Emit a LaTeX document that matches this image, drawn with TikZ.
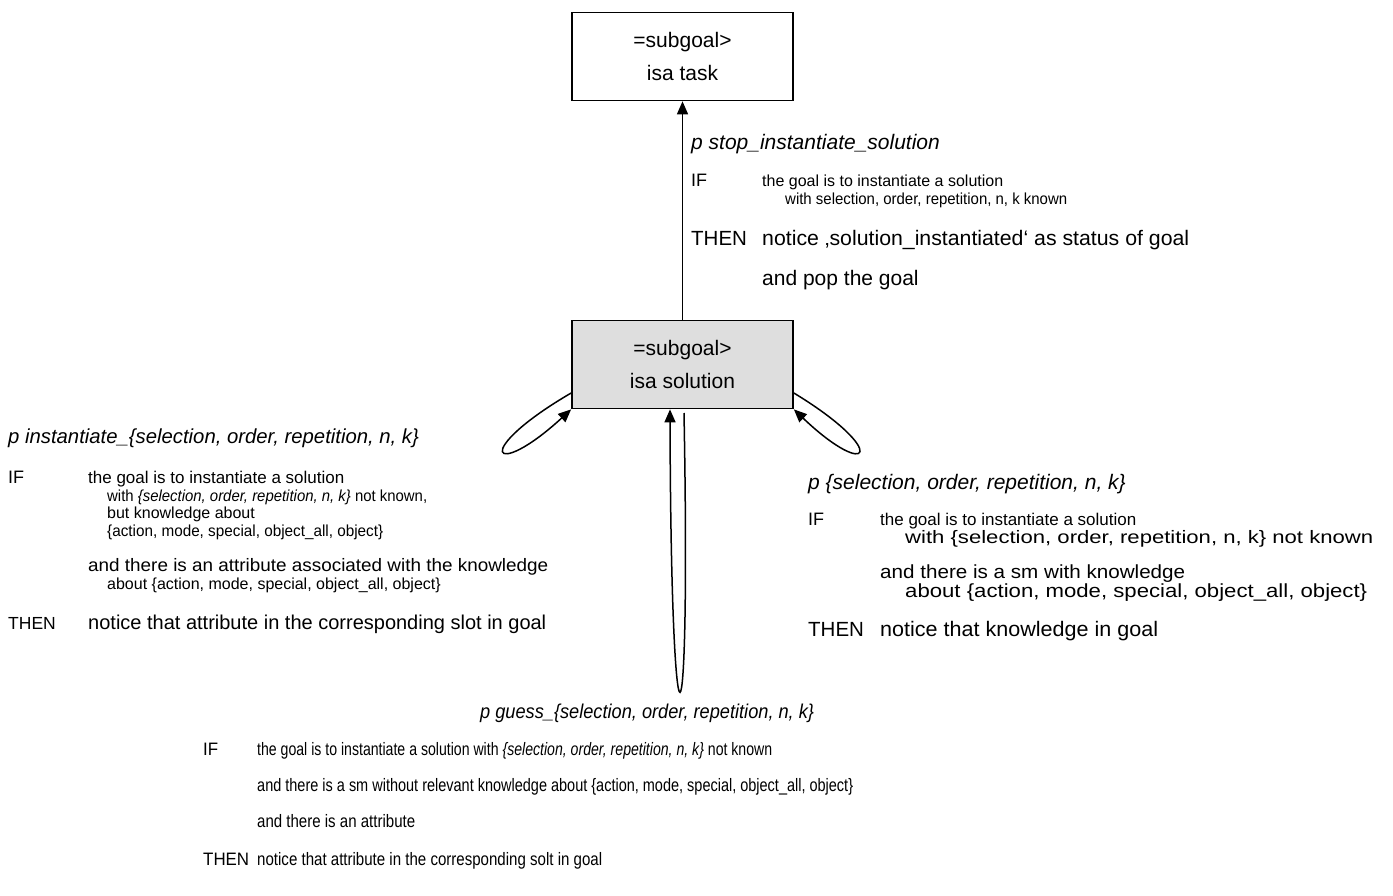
\documentclass[tikz,border=0pt]{standalone}
\usepackage{fontspec}
\usepackage{graphicx}
\setmainfont{Liberation Sans}
\newfontfamily\narrowhead[FakeStretch=0.91]{Liberation Sans}
\usetikzlibrary{arrows.meta}
% set a line to a given width, keeping its height
\newcommand{\fitto}[2]{\resizebox{#1}{\height}{#2}}
\begin{document}
\begin{tikzpicture}[x=1pt,y=-1pt,
  goalbox/.style={draw, line width=1.7pt, minimum width=221pt, minimum height=88pt,
    inner sep=0pt, align=center, font=\fontsize{21}{33}\selectfont},
  rl/.style={anchor=base west, inner sep=0pt, font=\fontsize{#1}{#1}\selectfont},
  rl/.default=21,
  gh/.style={anchor=base west, inner sep=0pt, font=\fontsize{20}{20}\selectfont\narrowhead\itshape},
  link/.style={line width=1.5pt, -{Triangle[length=13pt,width=11pt]}}]
\useasboundingbox (0,0) rectangle (1393,896);

% goal chunks
\node[goalbox] (task) at (682.5,56.5) {=subgoal>\\isa task};
\node[goalbox, fill=black!13] (sol) at (682.5,364.5) {=subgoal>\\isa solution};

% transitions
\draw[link] (sol) -- (task);
\coordinate (lin) at (sol.west |- 0,393);
\draw[link] (lin) .. controls (470,452) and (492,482) .. (sol.south west);
\coordinate (rin) at (sol.east |- 0,393);
\draw[link] (rin) .. controls (891,452) and (870,482) .. (sol.south east);
\coordinate (bin) at (684,413);
\coordinate (bend) at (sol.south -| 670,0);
\draw[link] (bin) .. controls (691,784) and (671,784) .. (bend);

% production stop_instantiate_solution
\node[rl] (s0) at (691,150) {\itshape p stop\_instantiate\_solution};
\node[rl=18] (s1) at (691,187) {IF};
\node[rl=16] (s2) at (762,187) {the goal is to instantiate a solution};
\node[rl=16] (s3) at (785,205) {\fitto{282pt}{with selection, order, repetition, n, k known}};
\node[rl=20.5] (s4) at (691,246) {THEN};
\node[rl] (s5) at (762,246) {\fitto{427pt}{notice ‚solution\_instantiated‘ as status of goal}};
\node[rl] (s6) at (762,286) {and pop the goal};

% production instantiate_{...}
\node[rl=20.3] (l0) at (8,443) {\itshape p instantiate\_\{selection, order, repetition, n, k\}};
\node[rl=18] (l1) at (8,483) {IF};
\node[rl=17] (l2) at (88,483) {the goal is to instantiate a solution};
\node[rl=16] (l3) at (107,501) {\fitto{320pt}{with {\itshape\{selection, order, repetition, n, k\}} not known,}};
\node[rl=16] (l4) at (107,518) {but knowledge about};
\node[rl=16] (l5) at (107,536) {\fitto{276pt}{\{action, mode, special, object\_all, object\}}};
\node[rl=18] (l6) at (88,571) {\fitto{460pt}{and there is an attribute associated with the knowledge}};
\node[rl=16] (l7) at (107,589) {about \{action, mode, special, object\_all, object\}};
\node[rl=17.5] (l8) at (8,629) {THEN};
\node[rl=20] (l9) at (88,629) {notice that attribute in the corresponding slot in goal};

% production {...}
\node[rl] (r0) at (808,489) {\itshape p \{selection, order, repetition, n, k\}};
\node[rl=18] (r1) at (808,525) {IF};
\node[rl=17] (r2) at (880,525) {the goal is to instantiate a solution};
\node[rl=18] (r3) at (905,543) {\fitto{468pt}{with \{selection, order, repetition, n, k\} not known}};
\node[rl=19] (r4) at (880,578) {\fitto{305pt}{and there is a sm with knowledge}};
\node[rl=19] (r5) at (905,597) {\fitto{462pt}{about \{action, mode, special, object\_all, object\}}};
\node[rl=20.5] (r6) at (808,636) {THEN};
\node[rl] (r7) at (880,636) {\fitto{278pt}{notice that knowledge in goal}};

% production guess_{...}
\node[gh] (g0) at (480,718) {p guess\_\{selection, order, repetition, n, k\}};
\node[rl=18] (g1) at (203,755) {\fitto{15pt}{IF}};
\node[rl=18] (g2) at (257,755) {\fitto{515pt}{the goal is to instantiate a solution with {\itshape\{selection, order, repetition, n, k\}} not known}};
\node[rl=18] (g3) at (257,791) {\fitto{596pt}{and there is a sm without relevant knowledge about \{action, mode, special, object\_all, object\}}};
\node[rl=18] (g4) at (257,827) {\fitto{158pt}{and there is an attribute}};
\node[rl=18] (g5) at (203,865) {\fitto{46pt}{THEN}};
\node[rl=18] (g6) at (257,865) {\fitto{345pt}{notice that attribute in the corresponding solt in goal}};
\end{tikzpicture}
\end{document}
